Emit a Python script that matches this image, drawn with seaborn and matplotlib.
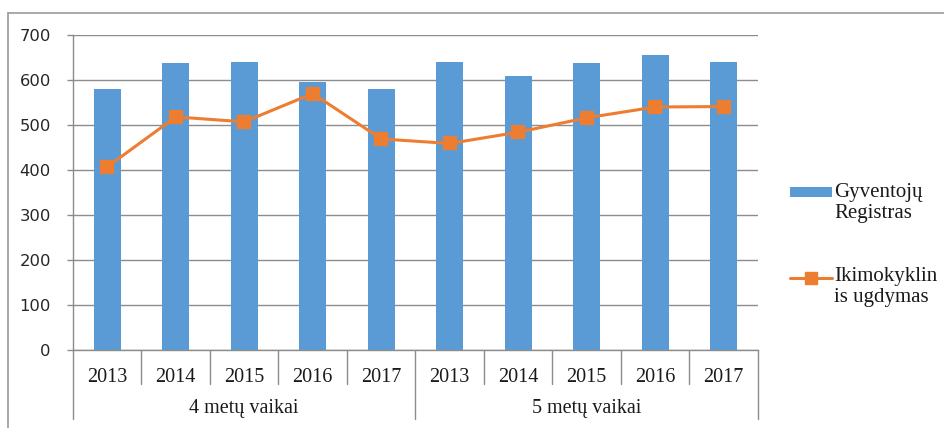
import matplotlib
matplotlib.use("Agg")
import matplotlib.pyplot as plt
import matplotlib.transforms as mtransforms
from matplotlib.lines import Line2D
from matplotlib.patches import Rectangle
import seaborn as sns
import pandas as pd

# ---- data ----
groups = ["4 metų vaikai", "5 metų vaikai"]
years = ["2013", "2014", "2015", "2016", "2017"]
registras = [581, 638, 640, 596, 581, 641, 608, 638, 656, 641]
ugdymas = [407, 518, 507, 570, 469, 459, 484, 516, 540, 541]
series_names = ["Gyventojų\nRegistras", "Ikimokyklin\nis ugdymas"]
yticks = [0, 100, 200, 300, 400, 500, 600, 700]

BLUE = "#5B9BD5"
ORANGE = "#ED7D31"
GRID = "#8C8C8C"
SERIF = ["Liberation Serif", "DejaVu Serif"]

cats = [f"{g}|{y}" for g in groups for y in years]
df = pd.DataFrame({"cat": cats, "reg": registras, "ugd": ugdymas})

sns.set_style("white")
plt.rcParams["font.family"] = ["DejaVu Sans"]

W, H = 945, 428
fig = plt.figure(figsize=(W / 100, H / 100), dpi=100)
ax = fig.add_axes([73 / W, 1 - 350 / H, (758 - 73) / W, 315 / H])

sns.barplot(data=df, x="cat", y="reg", order=cats, color=BLUE, saturation=1,
            width=0.39, linewidth=0, errorbar=None, ax=ax, zorder=2)
sns.pointplot(data=df, x="cat", y="ugd", order=cats, color=ORANGE, markers="s",
              linestyles="-", markersize=8, linewidth=2.2, errorbar=None, ax=ax)
for ln in ax.lines:
    ln.set_zorder(4)

ax.set_xlim(-0.5, len(cats) - 0.5)
ax.set_ylim(0, 700)
ax.set_yticks(yticks)
ax.set_yticklabels([str(v) for v in yticks], fontsize=11.8, color="#262626")
ax.set_axisbelow(True)
ax.yaxis.grid(True, color=GRID, linewidth=1.0)
ax.tick_params(axis="y", length=4, width=1.0, color=GRID, pad=12, left=True)
ax.tick_params(axis="x", length=0, pad=13)
ax.set_xticks(range(len(cats)))
ax.set_xticklabels([c.split("|")[1] for c in cats], fontsize=14.5,
                   family=SERIF, color="#1a1a1a")
ax.set_xlabel("")
ax.set_ylabel("")
for s in ["top", "right"]:
    ax.spines[s].set_visible(False)
ax.spines["left"].set_color(GRID)
ax.spines["bottom"].set_color(GRID)
ax.spines["left"].set_linewidth(1.0)
ax.spines["bottom"].set_linewidth(1.0)

# multi-level category separators
trans = mtransforms.blended_transform_factory(ax.transData, fig.transFigure)
y_axis = 1 - 350 / H
y_inner = 1 - 384 / H
y_outer = 1 - 419 / H
n_per = len(years)
for i in range(len(cats) + 1):
    xb = i - 0.5
    bottom = y_outer if i % n_per == 0 else y_inner
    ax.add_line(Line2D([xb, xb], [y_axis, bottom], transform=trans, color=GRID,
                       linewidth=1.0, clip_on=False))
for gi, g in enumerate(groups):
    xc = gi * n_per + (n_per - 1) / 2
    ax.text(xc, 1 - 408 / H, g, transform=trans, ha="center", va="center",
            fontsize=14.5, family=SERIF, color="#1a1a1a")

# outer frame (top and left visible)
fig.add_artist(Line2D([8 / W, 1.0], [1 - 13 / H, 1 - 13 / H],
                      transform=fig.transFigure, color="#9a9a9a", linewidth=1.2))
fig.add_artist(Line2D([8 / W, 8 / W], [1 - 13 / H, 0],
                      transform=fig.transFigure, color="#9a9a9a", linewidth=1.2))

# legend (manual)
fig.add_artist(Rectangle((790 / W, 1 - 197 / H), 42 / W, 10 / H,
                         transform=fig.transFigure, color=BLUE, linewidth=0))
fig.add_artist(Line2D([790 / W, 832 / W], [1 - 278 / H, 1 - 278 / H],
                      transform=fig.transFigure, color=ORANGE, linewidth=2.2))
fig.add_artist(Line2D([811 / W], [1 - 278 / H], transform=fig.transFigure,
                      color=ORANGE, marker="s", markersize=8, linewidth=0))
fig.text(834 / W, 1 - 183 / H, series_names[0], ha="left", va="top",
         fontsize=15, family=SERIF, color="#1a1a1a", linespacing=1.15)
fig.text(834 / W, 1 - 267 / H, series_names[1], ha="left", va="top",
         fontsize=15, family=SERIF, color="#1a1a1a", linespacing=1.15)

fig.savefig("out.png", dpi=100)
